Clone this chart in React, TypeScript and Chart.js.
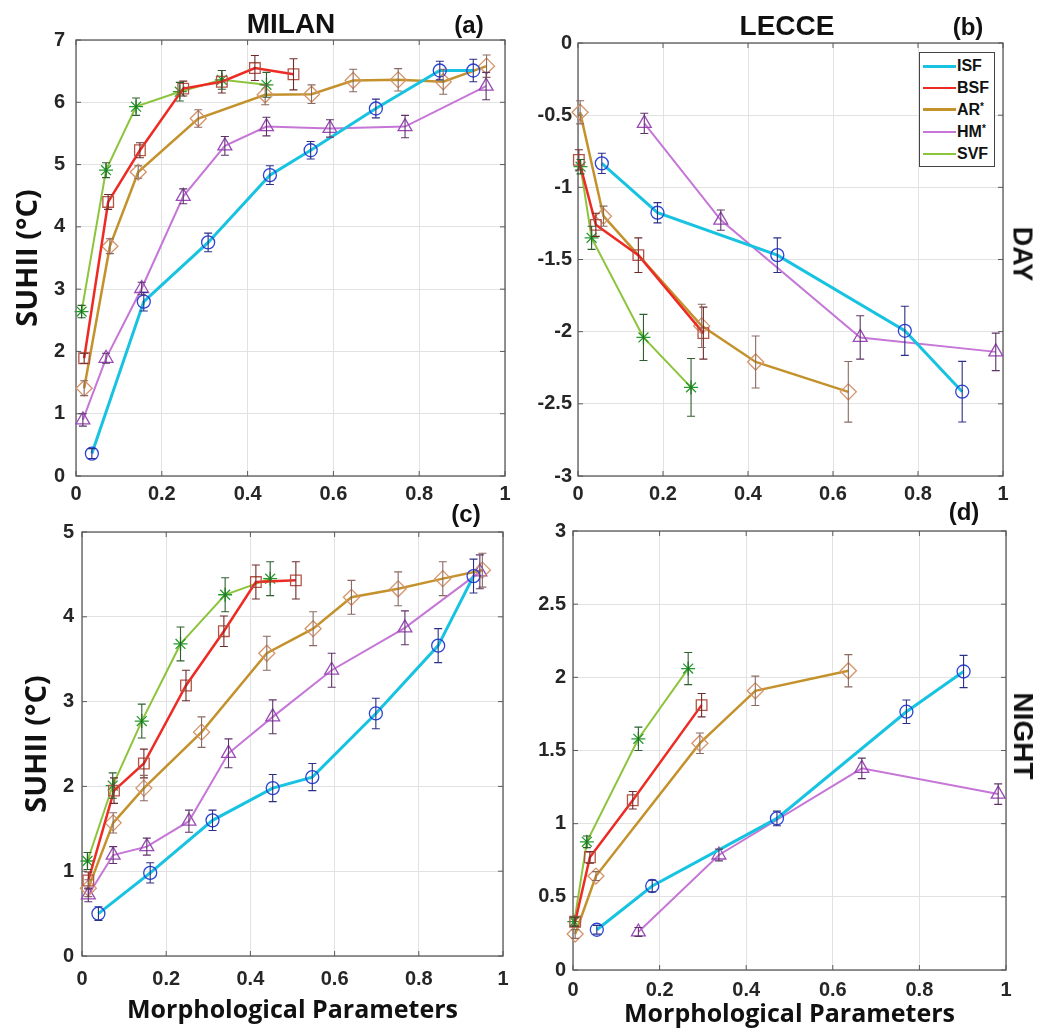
import React, { useEffect, useRef } from "react";
import { Chart, registerables } from "chart.js";

Chart.register(...registerables);

// ---------------- data ----------------
const seriesNames = ["ISF", "BSF", "AR*", "HM*", "SVF"];
const xTicks = [0, 0.2, 0.4, 0.6, 0.8, 1];
const yTicksMilanDay = [0, 1, 2, 3, 4, 5, 6, 7];
const yTicksLecceDay = [0, -0.5, -1, -1.5, -2, -2.5, -3];
const yTicksMilanNight = [0, 1, 2, 3, 4, 5];
const yTicksLecceNight = [0, 0.5, 1, 1.5, 2, 2.5, 3];

// (a) Milan – day
const milanDayISF = { x: [0.037, 0.158, 0.308, 0.452, 0.547, 0.699, 0.848, 0.926], y: [0.36, 2.8, 3.75, 4.83, 5.23, 5.9, 6.51, 6.51], err: [0.08, 0.15, 0.15, 0.15, 0.14, 0.15, 0.15, 0.18] };
const milanDayBSF = { x: [0.019, 0.075, 0.149, 0.25, 0.34, 0.417, 0.507], y: [1.89, 4.4, 5.23, 6.22, 6.33, 6.55, 6.45], err: [0.08, 0.12, 0.12, 0.12, 0.18, 0.2, 0.25] };
const milanDayAR = { x: [0.019, 0.079, 0.145, 0.285, 0.441, 0.549, 0.646, 0.751, 0.856, 0.957], y: [1.41, 3.69, 4.88, 5.74, 6.12, 6.13, 6.35, 6.36, 6.33, 6.58], err: [0.12, 0.12, 0.1, 0.14, 0.16, 0.15, 0.18, 0.18, 0.2, 0.18] };
const milanDayHM = { x: [0.016, 0.07, 0.153, 0.25, 0.347, 0.444, 0.592, 0.767, 0.956], y: [0.9, 1.89, 3.01, 4.49, 5.3, 5.61, 5.58, 5.61, 6.26], err: [0.1, 0.08, 0.1, 0.12, 0.15, 0.15, 0.14, 0.18, 0.22] };
const milanDaySVF = { x: [0.013, 0.07, 0.14, 0.242, 0.34, 0.444], y: [2.64, 4.91, 5.93, 6.17, 6.36, 6.28], err: [0.1, 0.12, 0.14, 0.15, 0.15, 0.2] };

// (b) Lecce – day
const lecceDayISF = { x: [0.056, 0.187, 0.469, 0.769, 0.904], y: [-0.834, -1.176, -1.47, -1.994, -2.416], err: [0.07, 0.07, 0.12, 0.17, 0.21] };
const lecceDayBSF = { x: [0.002, 0.042, 0.142, 0.295], y: [-0.81, -1.26, -1.47, -2.01], err: [0.07, 0.08, 0.12, 0.18] };
const lecceDayAR = { x: [0.005, 0.06, 0.291, 0.418, 0.636], y: [-0.48, -1.2, -1.96, -2.21, -2.417], err: [0.08, 0.07, 0.15, 0.18, 0.21] };
const lecceDayHM = { x: [0.156, 0.336, 0.664, 0.983], y: [-0.557, -1.227, -2.04, -2.14], err: [0.07, 0.07, 0.15, 0.13] };
const lecceDaySVF = { x: [0.006, 0.032, 0.154, 0.266], y: [-0.857, -1.35, -2.04, -2.386], err: [0.05, 0.08, 0.16, 0.2] };

// (c) Milan – night
const milanNightISF = { x: [0.039, 0.162, 0.31, 0.453, 0.547, 0.698, 0.846, 0.93], y: [0.5, 0.98, 1.6, 1.98, 2.11, 2.86, 3.66, 4.48], err: [0.08, 0.12, 0.12, 0.16, 0.16, 0.18, 0.2, 0.2] };
const milanNightBSF = { x: [0.015, 0.076, 0.147, 0.247, 0.337, 0.413, 0.508], y: [0.89, 1.95, 2.27, 3.19, 3.83, 4.41, 4.43], err: [0.1, 0.15, 0.17, 0.18, 0.18, 0.2, 0.22] };
const milanNightAR = { x: [0.015, 0.074, 0.147, 0.284, 0.439, 0.549, 0.64, 0.751, 0.857, 0.951], y: [0.8, 1.57, 1.98, 2.64, 3.57, 3.86, 4.23, 4.33, 4.45, 4.55], err: [0.1, 0.12, 0.15, 0.18, 0.2, 0.2, 0.2, 0.2, 0.2, 0.2] };
const milanNightHM = { x: [0.015, 0.074, 0.154, 0.254, 0.348, 0.453, 0.593, 0.767, 0.945], y: [0.72, 1.19, 1.29, 1.59, 2.39, 2.82, 3.37, 3.87, 4.53], err: [0.08, 0.1, 0.1, 0.13, 0.17, 0.2, 0.2, 0.2, 0.2] };
const milanNightSVF = { x: [0.013, 0.073, 0.142, 0.234, 0.34, 0.447], y: [1.12, 2.01, 2.77, 3.68, 4.26, 4.45], err: [0.1, 0.15, 0.2, 0.2, 0.2, 0.2] };

// (d) Lecce – night
const lecceNightISF = { x: [0.055, 0.183, 0.471, 0.77, 0.902], y: [0.275, 0.574, 1.036, 1.765, 2.04], err: [0.03, 0.04, 0.05, 0.08, 0.11] };
const lecceNightBSF = { x: [0.005, 0.039, 0.138, 0.297], y: [0.33, 0.77, 1.16, 1.81], err: [0.03, 0.04, 0.06, 0.08] };
const lecceNightAR = { x: [0.005, 0.053, 0.293, 0.421, 0.636], y: [0.246, 0.642, 1.55, 1.908, 2.045], err: [0.03, 0.03, 0.07, 0.1, 0.11] };
const lecceNightHM = { x: [0.151, 0.337, 0.667, 0.982], y: [0.26, 0.786, 1.378, 1.202], err: [0.03, 0.04, 0.07, 0.07] };
const lecceNightSVF = { x: [0.003, 0.032, 0.151, 0.266], y: [0.33, 0.876, 1.58, 2.06], err: [0.03, 0.04, 0.08, 0.11] };

// ---------------- styles ----------------
const lineColors = ["#17c3e0", "#ee2a24", "#c4922c", "#c576d6", "#8cc43c"];
const markerColors = ["#2b44d6", "#b35545", "#d4936a", "#9a4bb8", "#249a2a"];
const errColors = ["#2c2f86", "#6e2b2b", "#8a6a60", "#5e3468", "#2f5f2f"];
const lineWidths = [3, 2.5, 2.5, 2, 2];
const pointStyles = ["circle", "rect", "rectRot", "triangle", "star"];
const pointRadii = [6.5, 7.5, 8, 8, 7];

const TICK_FONT = "'Liberation Sans', Arial, sans-serif";
const TITLE_FONT = "'Open Sans', 'Noto Sans', sans-serif";

const framePlugin = {
  id: "frame",
  beforeDatasetsDraw(chart: any) {
    const { ctx, chartArea: a, scales } = chart;
    ctx.save();
    ctx.strokeStyle = "#5a5a5a";
    ctx.lineWidth = 1.3;
    ctx.strokeRect(a.left, a.top, a.right - a.left, a.bottom - a.top);
    ctx.lineWidth = 1;
    ctx.beginPath();
    scales.x.ticks.forEach((t: any) => {
      const px = scales.x.getPixelForValue(t.value);
      ctx.moveTo(px, a.bottom); ctx.lineTo(px, a.bottom - 5);
      ctx.moveTo(px, a.top); ctx.lineTo(px, a.top + 5);
    });
    scales.y.ticks.forEach((t: any) => {
      const py = scales.y.getPixelForValue(t.value);
      ctx.moveTo(a.left, py); ctx.lineTo(a.left + 5, py);
      ctx.moveTo(a.right, py); ctx.lineTo(a.right - 5, py);
    });
    ctx.stroke();
    ctx.restore();
  },
};

const errorBarPlugin = {
  id: "errorBars",
  afterDatasetsDraw(chart: any) {
    const { ctx, scales } = chart;
    chart.data.datasets.forEach((ds: any) => {
      ctx.save();
      ctx.strokeStyle = ds.errorColor;
      ctx.lineWidth = 1.1;
      ctx.beginPath();
      ds.data.forEach((p: any, j: number) => {
        const px = scales.x.getPixelForValue(p.x);
        const top = scales.y.getPixelForValue(p.y + ds.errors[j]);
        const bot = scales.y.getPixelForValue(p.y - ds.errors[j]);
        ctx.moveTo(px, top); ctx.lineTo(px, bot);
        ctx.moveTo(px - 4, top); ctx.lineTo(px + 4, top);
        ctx.moveTo(px - 4, bot); ctx.lineTo(px + 4, bot);
      });
      ctx.stroke();
      ctx.restore();
    });
  },
};

type Panel = {
  series: { x: number[]; y: number[]; err: number[] }[];
  yTicks: number[];
  box: { left: number; top: number; w: number; h: number };
  plot: { l: number; t: number; r: number; b: number };
  yPad: number;
  xPad: number;
  yTitlePad?: number;
  xTitlePad?: number;
};

const panels: Panel[] = [
  {
    series: [milanDayISF, milanDayBSF, milanDayAR, milanDayHM, milanDaySVF],
    yTicks: yTicksMilanDay,
    box: { left: 0, top: 0, w: 530, h: 510 },
    plot: { l: 76, t: 40, r: 505, b: 476 },
    yPad: 11, xPad: 6.5, yTitlePad: 10.9,
  },
  {
    series: [lecceDayISF, lecceDayBSF, lecceDayAR, lecceDayHM, lecceDaySVF],
    yTicks: yTicksLecceDay,
    box: { left: 530, top: 0, w: 533, h: 510 },
    plot: { l: 578, t: 43, r: 1003, b: 476 },
    yPad: 6, xPad: 6.5,
  },
  {
    series: [milanNightISF, milanNightBSF, milanNightAR, milanNightHM, milanNightSVF],
    yTicks: yTicksMilanNight,
    box: { left: 0, top: 500, w: 530, h: 532 },
    plot: { l: 82, t: 532, r: 503, b: 956 },
    yPad: 8, xPad: 11.5, yTitlePad: 20.1, xTitlePad: 6,
  },
  {
    series: [lecceNightISF, lecceNightBSF, lecceNightAR, lecceNightHM, lecceNightSVF],
    yTicks: yTicksLecceNight,
    box: { left: 530, top: 500, w: 533, h: 532 },
    plot: { l: 573, t: 531, r: 1006, b: 970 },
    yPad: 7, xPad: 8, xTitlePad: 2,
  },
];

function buildConfig(p: Panel): any {
  const yW = p.plot.l - p.box.left;
  const xH = p.box.top + p.box.h - p.plot.b;
  const tickFont = { family: TICK_FONT, size: 20, weight: "bold" as const };
  return {
    type: "line",
    data: {
      datasets: p.series.map((s, i) => ({
        label: seriesNames[i],
        data: s.x.map((x, j) => ({ x, y: s.y[j] })),
        errors: s.err,
        errorColor: errColors[i],
        borderColor: lineColors[i],
        borderWidth: lineWidths[i],
        pointStyle: pointStyles[i],
        pointRadius: pointRadii[i],
        pointBorderColor: markerColors[i],
        pointBackgroundColor: "rgba(0,0,0,0)",
        pointBorderWidth: 1.3,
        fill: false,
        tension: 0,
        clip: false,
      })),
    },
    options: {
      responsive: false,
      animation: false,
      devicePixelRatio: 1,
      events: [],
      layout: {
        padding: { top: p.plot.t - p.box.top, right: p.box.left + p.box.w - p.plot.r, left: 0, bottom: 0 },
        autoPadding: false,
      },
      plugins: { legend: { display: false }, tooltip: { enabled: false }, title: { display: false } },
      scales: {
        x: {
          type: "linear",
          min: 0,
          max: 1,
          afterBuildTicks: (s: any) => { s.ticks = xTicks.map((v) => ({ value: v })); },
          afterFit: (s: any) => { s.height = xH; },
          grid: { color: "#e2e2e2", drawTicks: false, lineWidth: 1 },
          border: { display: false },
          ticks: { padding: p.xPad, font: tickFont, color: "#262626", maxRotation: 0, callback: (v: any) => String(v) },
          title: p.xTitlePad !== undefined
            ? { display: true, text: "Morphological Parameters", font: { family: TITLE_FONT, size: 25, weight: "bold" }, color: "#111", padding: { top: 0, bottom: p.xTitlePad } }
            : { display: false },
        },
        y: {
          type: "linear",
          min: p.yTicks.reduce((a, b) => Math.min(a, b)),
          max: p.yTicks.reduce((a, b) => Math.max(a, b)),
          afterBuildTicks: (s: any) => { s.ticks = [...p.yTicks].sort((a, b) => a - b).map((v) => ({ value: v })); },
          afterFit: (s: any) => { s.width = yW; },
          grid: { color: "#e2e2e2", drawTicks: false, lineWidth: 1 },
          border: { display: false },
          ticks: { padding: p.yPad, font: tickFont, color: "#262626", callback: (v: any) => String(v) },
          title: p.yTitlePad !== undefined
            ? { display: true, text: "SUHII (°C)", font: { family: TITLE_FONT, size: 29, weight: "bold" }, color: "#111", padding: { top: p.yTitlePad, bottom: 0 } }
            : { display: false },
        },
      },
    },
    plugins: [framePlugin, errorBarPlugin],
  };
}

function PanelChart({ p }: { p: Panel }) {
  const ref = useRef<HTMLCanvasElement>(null);
  useEffect(() => {
    const chart = new Chart(ref.current as HTMLCanvasElement, buildConfig(p));
    return () => chart.destroy();
  }, [p]);
  return (
    <canvas
      ref={ref}
      width={p.box.w}
      height={p.box.h}
      style={{ position: "absolute", left: p.box.left, top: p.box.top, width: p.box.w, height: p.box.h }}
    />
  );
}

function Label({ x, y, text, size, font, rotate }: { x: number; y: number; text: React.ReactNode; size: number; font: string; rotate?: number }) {
  return (
    <div
      style={{
        position: "absolute",
        left: x,
        top: y,
        transform: `translate(-50%, -50%)${rotate ? ` rotate(${rotate}deg)` : ""}`,
        fontFamily: font,
        fontWeight: 700,
        fontSize: size,
        lineHeight: 1,
        color: "#111",
        whiteSpace: "nowrap",
      }}
    >
      {text}
    </div>
  );
}

function Legend() {
  const rows = [13, 35, 56.5, 78.5, 100.5];
  return (
    <div
      style={{
        position: "absolute",
        left: 919,
        top: 52,
        width: 74,
        height: 113,
        border: "1px solid #444",
        background: "#fff",
      }}
    >
      {seriesNames.map((name, i) => (
        <div key={name} style={{ position: "absolute", left: 3, top: rows[i] - 10, height: 20, display: "flex", alignItems: "center" }}>
          <div style={{ width: 33, height: lineWidths[i], background: lineColors[i] }} />
          <span
            style={{
              fontFamily: "'Liberation Sans Narrow', 'Liberation Sans', Arial, sans-serif",
              fontWeight: 700,
              fontSize: 16,
              color: "#111",
              marginLeft: 1,
              lineHeight: 1,
            }}
          >
            {name.replace("*", "")}
            {name.includes("*") ? <span style={{ fontSize: 10, verticalAlign: "top", lineHeight: 1 }}>*</span> : null}
          </span>
        </div>
      ))}
    </div>
  );
}

export default function App() {
  return (
    <div style={{ position: "absolute", left: 0, top: 0, width: 1063, height: 1032, background: "#fff", overflow: "hidden" }}>
      {panels.map((p, i) => (
        <PanelChart key={i} p={p} />
      ))}
      <Label x={291} y={24} text="MILAN" size={28} font={TICK_FONT} />
      <Label x={787} y={26} text="LECCE" size={28} font={TICK_FONT} />
      <Label x={469} y={25} text="(a)" size={24} font={TICK_FONT} />
      <Label x={968} y={27} text="(b)" size={24} font={TICK_FONT} />
      <Label x={466} y={514} text="(c)" size={24} font={TICK_FONT} />
      <Label x={964} y={512} text="(d)" size={24} font={TICK_FONT} />
      <Label x={1022} y={254} text="DAY" size={27} font={TICK_FONT} rotate={90} />
      <Label x={1023} y={736} text="NIGHT" size={28} font={TICK_FONT} rotate={90} />
      <Legend />
    </div>
  );
}
